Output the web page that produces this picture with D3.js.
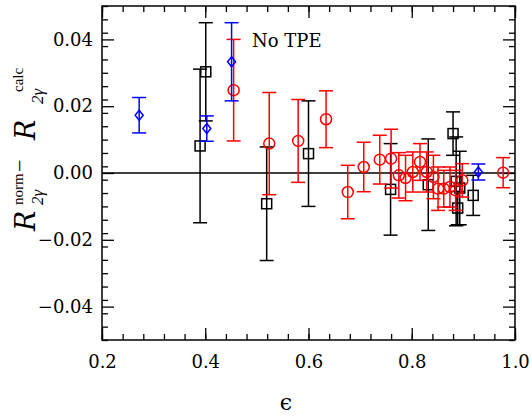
<!DOCTYPE html>
<html>
<head>
<meta charset="utf-8">
<script src="https://cdn.jsdelivr.net/npm/d3@7"></script>
<style>
  body { margin: 0; background: #fff; }
  svg { display: block; }
</style>
</head>
<body>
<div id="chart"></div>
<script>
// tick values
const xMajor = [0.2, 0.4, 0.6, 0.8, 1.0];
const yMajor = [-0.04, -0.02, 0.0, 0.02, 0.04];

// "No TPE" points (red circles)
const redEps = [0.455, 0.524, 0.580, 0.634, 0.676, 0.707, 0.738, 0.760, 0.775, 0.788,
                0.802, 0.816, 0.829, 0.842, 0.851, 0.862, 0.874, 0.885, 0.898, 0.977];
const redVal = [0.0248, 0.0088, 0.0096, 0.0161, -0.0057, 0.0018, 0.0040, 0.0043, -0.0007, -0.0015,
                0.0003, 0.0033, 0.0003, -0.0012, -0.0047, -0.0047, -0.0042, -0.0052, -0.0022, 0.0001];
const redErr = [0.0152, 0.0153, 0.0124, 0.0085, 0.0080, 0.0074, 0.0073, 0.0088, 0.0068, 0.0068,
                0.0060, 0.0055, 0.0060, 0.0065, 0.0065, 0.0055, 0.0060, 0.0060, 0.0050, 0.0045];

// black squares
const blackEps = [0.390, 0.401, 0.519, 0.600, 0.759, 0.832, 0.880, 0.886, 0.889, 0.893, 0.919];
const blackVal = [0.0081, 0.0303, -0.0092, 0.0058, -0.0049, -0.0035, 0.0118, -0.0025, -0.0105, -0.0045, -0.0067];
const blackErr = [0.0230, 0.0147, 0.0170, 0.0158, 0.0137, 0.0137, 0.0065, 0.0133, 0.0050, 0.0110, 0.0060];

// blue diamonds
const blueEps = [0.272, 0.403, 0.451, 0.929];
const blueVal = [0.0173, 0.0133, 0.0333, 0.0003];
const blueErr = [0.0053, 0.0038, 0.0117, 0.0024];

const W = 532, H = 416;
const plotL = 102, plotR = 515, plotT = 6, plotB = 340;

const svg = d3.select('#chart').append('svg')
    .attr('width', W).attr('height', H);

const x = d3.scaleLinear().domain([0.2, 1.0]).range([plotL, plotR]);
const y = d3.scaleLinear().domain([-0.05, 0.05]).range([plotB, plotT]);

const xMinor = d3.range(0, 21).map(i => 0.2 + i * 0.04).filter(v => v <= 1.0001);
const yMinor = d3.range(0, 26).map(i => -0.05 + i * 0.004).filter(v => v <= 0.0501);

const fmtY = d => (d < -1e-9 ? '\u2212' : '') + Math.abs(d).toFixed(2);

function styleAxis(g) {
    g.select('.domain').remove();
    g.selectAll('line').attr('stroke', '#000').attr('stroke-width', 1.3);
    g.selectAll('text').attr('fill', '#000')
        .style('font-family', '"DejaVu Serif", serif').style('font-size', '18px');
}

// minor ticks, inward on all four sides
[[d3.axisBottom(x), `translate(0,${plotB})`, xMinor],
 [d3.axisTop(x), `translate(0,${plotT})`, xMinor],
 [d3.axisLeft(y), `translate(${plotL},0)`, yMinor],
 [d3.axisRight(y), `translate(${plotR},0)`, yMinor]].forEach(([ax, tr, vals]) => {
    const g = svg.append('g').attr('transform', tr)
        .call(ax.tickValues(vals).tickSizeInner(-6).tickSizeOuter(0).tickFormat(''));
    styleAxis(g);
});

// major ticks
const gxb = svg.append('g').attr('transform', `translate(0,${plotB})`)
    .call(d3.axisBottom(x).tickValues(xMajor).tickSizeInner(-12).tickSizeOuter(0)
        .tickPadding(15).tickFormat(d3.format('.1f')));
styleAxis(gxb);
const gxt = svg.append('g').attr('transform', `translate(0,${plotT})`)
    .call(d3.axisTop(x).tickValues(xMajor).tickSizeInner(-12).tickSizeOuter(0).tickFormat(''));
styleAxis(gxt);
const gyl = svg.append('g').attr('transform', `translate(${plotL},0)`)
    .call(d3.axisLeft(y).tickValues(yMajor).tickSizeInner(-12).tickSizeOuter(0)
        .tickPadding(9).tickFormat(fmtY));
styleAxis(gyl);
const gyr = svg.append('g').attr('transform', `translate(${plotR},0)`)
    .call(d3.axisRight(y).tickValues(yMajor).tickSizeInner(-12).tickSizeOuter(0).tickFormat(''));
styleAxis(gyr);

// frame
svg.append('rect')
    .attr('x', plotL).attr('y', plotT)
    .attr('width', plotR - plotL).attr('height', plotB - plotT)
    .attr('fill', 'none').attr('stroke', '#000').attr('stroke-width', 1.5);

// zero line
svg.append('line')
    .attr('x1', x(0.2)).attr('x2', x(1.0))
    .attr('y1', y(0)).attr('y2', y(0))
    .attr('stroke', '#000').attr('stroke-width', 1.5);

// data series
function series(eps, val, err, color) {
    return eps.map((e, i) => ({ e: e, v: val[i], s: err[i], color: color }));
}
const red = series(redEps, redVal, redErr, '#ff0000');
const black = series(blackEps, blackVal, blackErr, '#000000');
const blue = series(blueEps, blueVal, blueErr, '#0000ff');

const cap = 7;
function errorBars(data) {
    const g = svg.append('g');
    const pts = g.selectAll('g.pt').data(data).enter().append('g')
        .attr('stroke', d => d.color).attr('stroke-width', 1.5).attr('fill', 'none');
    pts.append('line')
        .attr('x1', d => x(d.e)).attr('x2', d => x(d.e))
        .attr('y1', d => y(d.v + d.s)).attr('y2', d => y(d.v - d.s));
    pts.append('line')
        .attr('x1', d => x(d.e) - cap).attr('x2', d => x(d.e) + cap)
        .attr('y1', d => y(d.v + d.s)).attr('y2', d => y(d.v + d.s));
    pts.append('line')
        .attr('x1', d => x(d.e) - cap).attr('x2', d => x(d.e) + cap)
        .attr('y1', d => y(d.v - d.s)).attr('y2', d => y(d.v - d.s));
    return pts;
}

errorBars(black).append('rect')
    .attr('x', d => x(d.e) - 5).attr('y', d => y(d.v) - 5)
    .attr('width', 10).attr('height', 10);

errorBars(red).append('circle')
    .attr('cx', d => x(d.e)).attr('cy', d => y(d.v)).attr('r', 5.5);

errorBars(blue).append('path')
    .attr('d', d => {
        const cx = x(d.e), cy = y(d.v);
        return `M${cx},${cy - 5}L${cx + 4},${cy}L${cx},${cy + 5}L${cx - 4},${cy}Z`;
    });

// legend text
svg.append('text')
    .attr('x', 252).attr('y', 47)
    .style('font-family', '"DejaVu Serif", serif').style('font-size', '18px')
    .text('No TPE');

// x label
svg.append('text')
    .attr('x', 286).attr('y', 410)
    .attr('text-anchor', 'middle')
    .style('font-family', '"DejaVu Serif", serif').style('font-size', '22px')
    .text('\u03f5');

// y label, rotated
const yl = svg.append('g').attr('transform', 'rotate(-90)').attr('fill', '#000');
const ylParts = [
    { t: 'R', lx: -231, ly: 35, fs: 27, it: true, f: '"DejaVu Serif", serif' },
    { t: 'norm', lx: -205, ly: 23, fs: 15, it: false, f: '"Liberation Serif", serif' },
    { t: '2\u03b3', lx: -205, ly: 43, fs: 17, it: true, f: '"Liberation Serif", serif' },
    { t: '\u2212', lx: -172, ly: 27, fs: 22, it: false, f: '"Liberation Serif", serif' },
    { t: 'R', lx: -140, ly: 35, fs: 27, it: true, f: '"DejaVu Serif", serif' },
    { t: '2\u03b3', lx: -104, ly: 43, fs: 17, it: true, f: '"Liberation Serif", serif' },
    { t: 'calc', lx: -92, ly: 23, fs: 15, it: false, f: '"Liberation Serif", serif' }
];
ylParts.forEach(p => {
    yl.append('text')
        .attr('x', p.lx).attr('y', p.ly)
        .style('font-family', p.f)
        .style('font-size', p.fs + 'px')
        .style('font-style', p.it ? 'italic' : 'normal')
        .text(p.t);
});
</script>
</body>
</html>
